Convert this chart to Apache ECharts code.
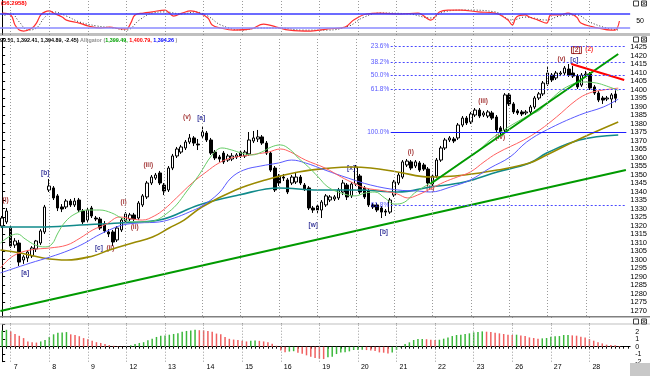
<!DOCTYPE html>
<html><head><meta charset="utf-8">
<script src="https://cdn.jsdelivr.net/npm/echarts@6/dist/echarts.min.js"></script>
<style>html,body{margin:0;padding:0;background:#fff;}#c{width:650px;height:376px;}</style>
</head><body><div id="c"></div>
<script>
// ---------- DATA ----------
const dayLabels = ['7','8','9','12','13','14','15','16','19','20','21','22','23','26','27','28'];
const dayStart  = [2,11,20,29,38,47,56,65,74,83,92,101,110,119,128,137];
const slotCount = 147;

// [open, close, low, high]
const candles = [
[1319.7,1324.4,1318.5,1325.6],[1322.1,1328.5,1320.9,1330.3],[1318.5,1307.9,1306.8,1319.7],[1308.5,1310.9,1306.8,1312.6],
[1309.7,1298.5,1296.2,1311.5],[1299.7,1301.5,1297.4,1302.6],[1300.9,1304.4,1298.5,1305.6],[1302.1,1306.8,1300.9,1307.9],
[1306.2,1310.9,1304.4,1311.5],[1309.7,1316.8,1308.5,1317.9],[1316.2,1330.9,1315.0,1332.1],[1340.9,1343.2,1339.7,1347.4],
[1342.1,1336.2,1335.0,1343.2],[1337.4,1330.3,1328.5,1338.5],[1330.9,1329.7,1327.9,1332.6],[1330.9,1334.4,1329.7,1335.6],
[1334.4,1332.1,1330.9,1335.6],[1332.1,1334.4,1330.9,1336.2],[1335.0,1329.1,1327.9,1336.2],[1328.5,1322.1,1320.9,1329.7],
[1323.2,1329.1,1322.1,1330.9],[1330.3,1325.6,1324.4,1331.5],[1324.4,1323.8,1322.6,1325.6],[1323.8,1318.5,1317.4,1325.0],
[1320.9,1316.8,1315.6,1322.6],[1316.2,1315.0,1313.2,1317.9],[1316.2,1310.3,1307.9,1317.4],[1311.5,1318.5,1310.3,1319.7],
[1317.4,1323.2,1316.2,1324.4],[1322.6,1326.8,1321.5,1327.9],[1323.8,1326.2,1322.6,1327.4],[1326.2,1323.8,1322.6,1327.4],
[1324.4,1333.2,1323.2,1334.4],[1332.1,1337.4,1330.9,1338.5],[1336.8,1345.0,1335.6,1346.2],[1345.0,1348.5,1343.8,1349.7],
[1347.9,1349.7,1346.8,1350.9],[1350.9,1345.0,1343.8,1352.1],[1343.8,1340.3,1337.9,1345.0],[1340.9,1353.8,1339.7,1355.0],
[1353.8,1360.9,1352.6,1362.1],[1360.9,1365.0,1359.7,1366.2],[1363.2,1366.2,1362.1,1367.4],[1365.6,1369.1,1364.4,1370.3],
[1369.1,1371.5,1367.9,1373.8],[1371.5,1368.5,1366.8,1372.6],[1367.9,1367.4,1364.4,1370.9],[1372.6,1375.0,1371.5,1377.9],
[1374.4,1370.3,1369.1,1375.6],[1370.3,1362.6,1361.5,1371.5],[1363.2,1359.7,1358.5,1364.4],[1360.3,1359.1,1357.4,1361.5],
[1362.6,1357.4,1356.2,1363.8],[1358.5,1360.9,1357.4,1362.1],[1359.1,1360.9,1357.9,1362.6],[1360.3,1361.5,1359.1,1362.6],
[1363.2,1360.9,1359.7,1364.4],[1360.9,1363.2,1359.7,1364.4],[1362.1,1370.3,1360.9,1375.0],[1369.7,1371.5,1368.5,1375.6],
[1370.9,1372.1,1369.1,1376.2],[1372.1,1368.5,1367.4,1373.2],[1368.5,1362.6,1361.5,1369.7],[1362.6,1352.6,1351.5,1363.8],
[1353.8,1340.9,1339.7,1355.0],[1349.1,1345.0,1343.2,1350.3],[1348.5,1347.9,1346.2,1350.3],[1346.8,1339.7,1338.5,1347.9],
[1345.0,1348.5,1343.8,1349.7],[1345.6,1348.5,1344.4,1351.5],[1348.5,1345.0,1343.8,1349.7],[1343.8,1341.5,1340.3,1345.0],
[1342.1,1330.3,1329.1,1343.2],[1330.3,1329.1,1327.4,1331.5],[1331.5,1329.1,1327.4,1332.6],[1329.1,1333.8,1324.4,1335.0],
[1332.1,1337.4,1330.9,1338.5],[1335.0,1336.8,1333.8,1337.9],[1335.6,1336.8,1334.4,1337.9],[1336.2,1340.9,1335.0,1342.1],
[1339.7,1345.0,1337.9,1346.8],[1343.8,1336.8,1335.0,1345.0],[1337.4,1344.4,1336.2,1345.6],[1344.4,1354.4,1343.2,1355.6],
[1349.1,1339.7,1338.5,1350.3],[1342.1,1336.8,1335.6,1343.2],[1340.3,1332.1,1330.9,1341.5],[1332.1,1330.9,1329.7,1333.2],
[1332.1,1329.1,1327.9,1333.2],[1330.3,1327.9,1324.4,1331.5],[1328.5,1327.9,1325.6,1329.7],[1327.9,1335.0,1326.8,1336.2],
[1337.9,1345.6,1336.8,1346.8],[1345.0,1349.7,1343.8,1350.9],[1348.5,1357.4,1347.4,1358.5],[1355.6,1357.9,1354.4,1359.1],
[1357.4,1353.8,1352.6,1358.5],[1355.0,1357.4,1353.8,1358.5],[1356.8,1352.6,1351.5,1357.9],[1355.6,1353.2,1352.1,1356.8],
[1353.2,1345.0,1343.2,1354.4],[1344.4,1349.1,1343.2,1350.3],[1349.1,1358.5,1347.9,1359.7],[1358.5,1365.6,1357.4,1366.8],
[1365.6,1370.3,1364.4,1371.5],[1370.3,1371.5,1369.1,1372.6],[1370.9,1369.7,1368.5,1372.1],[1371.5,1379.1,1370.3,1380.3],
[1379.1,1383.2,1377.9,1384.4],[1383.2,1380.3,1379.1,1384.4],[1380.9,1385.6,1379.7,1386.8],[1385.0,1387.9,1383.8,1389.1],
[1387.9,1384.4,1383.2,1389.1],[1385.0,1386.2,1383.8,1387.4],[1384.4,1386.8,1383.2,1387.9],[1386.2,1383.2,1382.1,1387.4],
[1383.8,1376.2,1375.0,1385.0],[1377.4,1375.0,1373.2,1378.5],[1376.2,1396.8,1375.0,1397.9],[1396.8,1391.5,1390.3,1397.9],
[1391.5,1386.8,1385.6,1392.6],[1387.4,1386.2,1385.0,1388.5],[1386.8,1385.6,1384.4,1387.9],[1386.2,1386.8,1385.0,1387.9],
[1386.8,1389.7,1385.6,1390.9],[1389.7,1395.0,1388.5,1396.2],[1395.0,1397.4,1393.8,1398.5],[1397.4,1403.8,1396.2,1405.0],
[1403.2,1409.7,1402.1,1413.2],[1408.5,1405.6,1404.4,1409.7],[1406.8,1409.7,1405.6,1410.9],[1409.1,1409.7,1407.9,1410.9],
[1409.7,1412.6,1408.5,1413.8],[1412.0,1408.5,1407.4,1415.0],[1409.7,1407.9,1406.8,1413.8],[1407.9,1401.5,1400.3,1409.1],
[1402.6,1408.5,1401.5,1409.7],[1408.5,1409.1,1407.4,1410.9],[1409.1,1400.9,1399.7,1410.3],[1401.5,1397.9,1396.8,1402.6],
[1397.9,1393.8,1392.6,1399.1],[1395.0,1393.8,1391.5,1396.2],[1394.4,1395.0,1393.2,1396.2],[1394.4,1396.8,1389.1,1397.9],
[1397.34,1394.89,1392.41,1399.51]
];

const histogram = [
2.15,2.25,2.05,1.7,1.45,1.15,0.7,0.6,0.55,0.7,0.9,1.3,1.65,1.85,1.9,1.95,1.65,1.55,1.4,1.15,1.0,0.8,0.6,0.5,0.35,0.22,0.12,0.05,-0.05,0.02,
0.18,0.35,0.5,0.6,0.85,1.05,1.3,1.45,1.5,1.6,1.7,1.8,2.0,2.1,2.15,2.25,2.2,2.18,2.1,2.0,1.75,1.65,1.3,1.05,0.95,0.9,0.8,0.7,0.78,0.82,
0.78,0.7,0.58,0.38,0.12,-0.5,-0.75,-0.65,-0.6,-0.8,-0.95,-1.15,-1.35,-1.5,-1.6,-1.65,-1.42,-1.33,-0.98,-0.76,-0.74,-0.62,-0.44,-0.43,-0.4,-0.45,-0.5,-0.58,-0.76,-0.8,
-0.89,-0.76,-0.44,-0.09,0.36,0.58,0.89,1.02,1.03,1.0,0.93,0.89,0.93,1.07,1.24,1.42,1.56,1.6,1.69,1.78,1.91,1.95,2.04,2.0,1.96,1.87,1.78,1.69,1.6,1.56,
1.6,1.51,1.42,1.24,1.16,1.07,1.11,1.16,1.33,1.38,1.42,1.56,1.57,1.51,1.47,1.33,1.24,1.02,0.8,0.58,0.44,0.27,0.22,0.18,0.09
];

// oscillator (top panel), [bar, value]
const stochMain = [[0,84],[2,76],[3,33],[4,11],[5,7],[7,20],[8,41],[9,76],[10,89],[11,93],[12,84],[14,67],[15,54],[18,41],[20,29],[23,20],[25,24],[28,16],[29,16],[30,41],[31,76],[33,84],[35,89],[38,97],[39,84],[40,71],[42,84],[44,93],[46,84],[48,63],[49,33],[51,20],[54,11],[58,16],[61,37],[64,24],[67,11],[72,7],[76,16],[80,24],[82,54],[85,80],[88,84],[93,80],[97,84],[100,54],[102,89],[104,97],[107,97],[111,89],[115,84],[118,54],[119,33],[120,67],[122,76],[123,67],[125,54],[127,41],[128,76],[130,76],[132,84],[134,67],[135,41],[138,24],[139,20],[142,11],[143,11],[144,50]];
const stochSignal = [[0,67],[2,84],[4,46],[6,11],[8,20],[10,67],[12,89],[15,71],[18,46],[22,29],[26,20],[29,11],[32,54],[35,84],[38,89],[42,80],[45,89],[48,71],[51,33],[56,11],[60,20],[65,20],[70,11],[76,11],[81,29],[84,63],[88,84],[95,80],[100,63],[103,89],[108,97],[115,89],[119,54],[122,67],[127,54],[130,71],[134,76],[137,46],[141,20],[144,11]];
const stochLevels = [80, 20];

// moving-average lines, [bar, price]
const lipsLine = [[-0.4,1309.7],[1.9,1313.8],[3.6,1315.0],[5.4,1312.1],[7.8,1308.5],[10.1,1307.4],[11.7,1309.1],[13.1,1315.6],[14.8,1322.1],[17.1,1326.8],[20.1,1329.1],[22.9,1329.1],[25.7,1327.4],[28.0,1324.4],[30.6,1322.1],[33.9,1322.1],[36.2,1323.2],[38.5,1326.8],[40.9,1332.1],[43.2,1339.7],[46.2,1349.7],[49.3,1361.5],[51.6,1365.6],[53.9,1364.4],[56.2,1362.6],[58.6,1361.5],[60.9,1363.2],[63.2,1366.2],[65.3,1367.4],[67.7,1364.4],[69.5,1359.7],[71.9,1354.4],[74.2,1348.5],[76.5,1342.6],[79.6,1339.1],[82.8,1337.4],[85.2,1339.1],[87.5,1339.7],[89.8,1336.2],[92.1,1332.6],[94.5,1333.8],[96.8,1339.1],[100.5,1345.0],[104.5,1351.5],[108.5,1358.5],[111.5,1363.2],[114.5,1370.3],[118.5,1377.4],[123.8,1385.0],[126.2,1387.9],[129.4,1395.6],[132.5,1401.5],[136.4,1404.4],[139.5,1403.8],[141.8,1402.1],[144.6,1399.5]];
const teethLine = [[-0.4,1295.0],[2.6,1302.1],[6.6,1305.6],[11.3,1306.8],[15.2,1308.5],[18.3,1312.6],[21.3,1317.4],[24.5,1320.9],[27.6,1325.0],[30.6,1323.8],[32.9,1323.2],[35.7,1325.6],[38.1,1329.7],[40.9,1336.2],[44.6,1345.0],[47.9,1351.5],[50.9,1356.8],[53.7,1359.7],[56.7,1360.9],[59.7,1362.1],[62.5,1363.2],[65.3,1365.0],[67.7,1363.2],[71.2,1358.5],[75.8,1353.8],[79.6,1348.5],[82.4,1345.0],[85.2,1342.1],[89.8,1340.3],[92.8,1338.5],[95.2,1336.2],[97.5,1337.9],[100.5,1341.5],[103.8,1345.6],[106.8,1348.5],[109.9,1351.5],[113.1,1357.4],[116.2,1362.6],[122.4,1370.3],[126.2,1376.2],[130.1,1383.8],[134.8,1393.8],[137.8,1397.9],[141.1,1399.7],[144.6,1400.8]];
const jawLine = [[-0.4,1292.1],[6.6,1297.9],[11.3,1301.5],[15.9,1305.6],[19.4,1309.7],[22.2,1313.8],[25.2,1317.4],[28.3,1320.3],[32.2,1321.5],[36.9,1322.1],[40.4,1324.4],[43.9,1327.9],[46.9,1331.5],[50.9,1339.1],[53.7,1347.9],[56.7,1352.6],[60.7,1355.0],[64.9,1356.8],[67.9,1358.5],[71.2,1356.8],[75.8,1352.6],[81.2,1347.9],[86.5,1343.8],[92.8,1340.9],[97.5,1340.3],[100.5,1339.7],[105.2,1342.6],[109.9,1346.8],[114.5,1353.8],[119.2,1360.3],[123.1,1369.1],[127.8,1376.2],[135.5,1385.0],[141.1,1389.7],[144.6,1394.3]];
const oliveLine = [[-0.4,1305.6],[4.3,1303.8],[9.6,1300.9],[15.2,1299.7],[21.3,1302.1],[25.2,1305.6],[30.6,1309.7],[35.3,1313.2],[39.2,1318.5],[42.7,1323.2],[46.9,1330.9],[54.8,1340.9],[61.8,1346.8],[69.5,1351.5],[77.2,1353.8],[81.9,1354.4],[86.5,1353.8],[92.8,1351.5],[100.5,1348.5],[108.5,1349.7],[116.2,1352.6],[123.8,1356.8],[127.8,1361.5],[135.5,1370.9],[144.6,1380.9]];
const tealLine = [[-0.4,1319.1],[8.9,1319.1],[18.3,1320.3],[27.6,1321.5],[36.9,1323.2],[46.2,1332.1],[55.5,1337.9],[64.9,1342.1],[74.2,1340.9],[83.5,1340.9],[92.8,1339.7],[100.5,1342.6],[108.5,1345.6],[116.2,1351.5],[123.8,1356.8],[127.8,1362.6],[135.5,1370.3],[144.6,1373.2]];

// drawn objects
const trendLong  = [[-0.4,1269.7],[146.4,1352.6]];
const trendSteep = [[100.5,1344.4],[144.6,1420.9]];
const trendRed   = [[133.6,1415.0],[146.0,1405.6]];
const fibLevels  = [
  {name:'23.6%', price:1425.4, solid:false},
  {name:'38.2%', price:1416.0, solid:false},
  {name:'50.0%', price:1408.3, solid:false},
  {name:'61.8%', price:1400.3, solid:false},
  {name:'100.0%', price:1375.0, solid:true},
  {name:'61.8%', price:1332.0, solid:false}
];
const fibStartBar = 91.2;
const waveLabels = [
  ['(i)',0.8,1335.0,'r'],['[a]',5.4,1292.1,'b'],['[b]',10.1,1350.9,'b'],['[c]',22.7,1306.8,'b'],['(ii)',25.4,1306.8,'r'],
  ['(i)',28.5,1333.8,'r'],['(ii)',31.1,1319.1,'r'],['(iii)',34.3,1355.6,'r'],['(v)',43.4,1383.8,'r'],['[a]',46.7,1383.2,'b'],
  ['[w]',73.0,1320.3,'b'],['[x]',81.9,1353.8,'b'],['[b]',89.6,1316.2,'b'],['(i)',95.9,1363.2,'r'],['(ii)',100.5,1342.1,'r'],
  ['(iii)',112.9,1393.2,'r'],['(iv)',116.9,1372.1,'r'],['(v)',131.3,1417.9,'r'],['[c]',134.3,1417.4,'b'],['[2]',134.8,1423.2,'box'],['(2)',137.8,1423.8,'red']
];
const headerValues = ['99.51, 1,392.41, 1,394.89, -2.45)', '1,399.49,', '1,400.79,', '1,394.26'];
const oscValue = '(56.2958)';

// ---------- CHART ----------
const categories = [];
for (let i = 0; i < slotCount; i++) { const d = dayStart.indexOf(i); categories.push(d >= 0 ? dayLabels[d] : ''); }

const GL = -0.45, GW = 630.6;
const FONT = 'Liberation Sans';
const vlines = dayStart.map(k => ({xAxis: k}));
const vlineStyle = {type: [1, 2], color: '#9a9a9a', width: 1};
function dayLineSeries(xi, yi) {
  return {type:'line', xAxisIndex:xi, yAxisIndex:yi, data:[], silent:true,
    markLine:{symbol:'none', silent:true, animation:false, label:{show:false}, lineStyle:vlineStyle, data:vlines}};
}
const waveColor = {r:'#8b0000', b:'#000080', box:'#8b0000', red:'#ff0000'};
const HF = 'bold 5.4px "Liberation Sans"';
function winButtons(y) {
  return [
    {type:'rect', shape:{x:633.5, y:y, width:5, height:5}, style:{fill:'#fff', stroke:'#404040', lineWidth:1}, z:101},
    {type:'rect', shape:{x:641.5, y:y, width:5, height:5}, style:{fill:'#fff', stroke:'#404040', lineWidth:1}, z:101},
    {type:'line', shape:{x1:642.5, y1:y+1, x2:645.5, y2:y+4}, style:{stroke:'#404040', lineWidth:1}, z:102},
    {type:'line', shape:{x1:645.5, y1:y+1, x2:642.5, y2:y+4}, style:{stroke:'#404040', lineWidth:1}, z:102}
  ];
}

const chart = echarts.init(document.getElementById('c'), null, {renderer:'canvas'});
const opt = {
  animation:false,
  backgroundColor:'#ffffff',
  textStyle:{fontFamily:FONT},
  grid:[
    {left:GL, width:GW, top:0, height:35},
    {left:GL, width:GW, top:38.5, height:280.5},
    {left:GL, width:GW, top:324.2, height:37.5}
  ],
  xAxis:[
    {type:'value', gridIndex:0, min:-0.5, max:146.5, show:false},
    {type:'category', gridIndex:1, data:categories, show:false},
    {type:'value', gridIndex:1, min:-0.5, max:146.5, show:false},
    {type:'category', gridIndex:2, data:categories,
      axisLine:{show:true, lineStyle:{color:'#000', width:1}},
      axisTick:{show:true, interval:0, length:2, alignWithLabel:true, lineStyle:{color:'#000'}},
      axisLabel:{show:true, interval:(i)=>dayStart.indexOf(i)>=0, align:'left', padding:[0,0,0,3], margin:2, fontSize:7, color:'#000', fontFamily:FONT}},
    {type:'category', gridIndex:2, data:categories,
      axisLine:{show:false}, axisLabel:{show:false},
      axisTick:{show:true, interval:(i)=>dayStart.indexOf(i)>=0, length:7, alignWithLabel:true, lineStyle:{color:'#000'}}},
    {type:'value', gridIndex:2, min:-0.5, max:146.5, show:false}
  ],
  yAxis:[
    {type:'value', gridIndex:0, min:-10, max:140, interval:10, position:'right', splitLine:{show:false},
      axisLine:{show:true, lineStyle:{color:'#000'}}, axisTick:{show:false},
      axisLabel:{formatter:v=>v===50?'50':'', fontSize:7, color:'#000', margin:6}},
    {type:'value', gridIndex:1, min:1265, max:1430, interval:5, position:'right', splitLine:{show:false},
      axisLine:{show:true, lineStyle:{color:'#000'}}, axisTick:{show:true, length:3, lineStyle:{color:'#000'}},
      axisLabel:{formatter:v=>(v<1270||v>1425)?'':String(v), fontSize:7.5, color:'#000', margin:4}},
    {type:'value', gridIndex:2, min:-2, max:3, interval:1, position:'right', splitLine:{show:false},
      axisLine:{show:true, lineStyle:{color:'#000'}}, axisTick:{show:true, length:3, lineStyle:{color:'#000'}},
      axisLabel:{formatter:v=>v>2?'':String(v), fontSize:7, color:'#000', margin:5}}
  ],
  series:[
    dayLineSeries(0,0), dayLineSeries(2,1), dayLineSeries(5,2),
    {type:'line', xAxisIndex:0, yAxisIndex:0, data:stochSignal, smooth:0.4, symbol:'none',
      lineStyle:{color:'#333', width:1, type:[1,2]}},
    {type:'line', xAxisIndex:0, yAxisIndex:0, data:stochMain, smooth:0.4, symbol:'none',
      lineStyle:{color:'#ff3030', width:1.2},
      markLine:{symbol:'none', silent:true, label:{show:false},
        data:[{yAxis:stochLevels[0], lineStyle:{color:'#3a3aff', width:1.5, type:'solid'}},
              {yAxis:stochLevels[1], lineStyle:{color:'#8a8aff', width:1.5, type:'solid'}}]}},
    {type:'line', xAxisIndex:2, yAxisIndex:1, data:[], silent:true,
      markLine:{symbol:'none', silent:true, label:{show:false},
        data: fibLevels.map(f => [{coord:[fibStartBar, f.price], lineStyle:{color: f.solid?'#2020ff':'#4a4aff', width: f.solid?1.2:1, type: f.solid?'solid':[2,2]}}, {coord:[146.5, f.price]}])}},
    {type:'line', xAxisIndex:2, yAxisIndex:1, data:tealLine, smooth:0.4, symbol:'none', lineStyle:{color:'#108a8a', width:1.6}},
    {type:'line', xAxisIndex:2, yAxisIndex:1, data:oliveLine, smooth:0.4, symbol:'none', lineStyle:{color:'#9a8a00', width:1.6}},
    {type:'line', xAxisIndex:2, yAxisIndex:1, data:jawLine, smooth:0.4, symbol:'none', lineStyle:{color:'#5a5aff', width:1}},
    {type:'line', xAxisIndex:2, yAxisIndex:1, data:teethLine, smooth:0.4, symbol:'none', lineStyle:{color:'#ff6060', width:1}},
    {type:'line', xAxisIndex:2, yAxisIndex:1, data:lipsLine, smooth:0.4, symbol:'none', lineStyle:{color:'#66cc66', width:1}},
    {type:'line', xAxisIndex:2, yAxisIndex:1, data:trendLong, symbol:'none', lineStyle:{color:'#009a00', width:2}},
    {type:'line', xAxisIndex:2, yAxisIndex:1, data:trendSteep, symbol:'none', lineStyle:{color:'#009a00', width:2}},
    {type:'line', xAxisIndex:2, yAxisIndex:1, data:trendRed, symbol:'none', lineStyle:{color:'#ff0000', width:2}},
    {type:'candlestick', xAxisIndex:1, yAxisIndex:1, data:candles, barWidth:3,
      itemStyle:{color:'#ffffff', color0:'#000000', borderColor:'#000000', borderColor0:'#000000', borderWidth:1}},
    {type:'scatter', xAxisIndex:2, yAxisIndex:1, symbolSize:1, itemStyle:{color:'rgba(0,0,0,0)'}, silent:true,
      data: waveLabels.map(w => ({value:[w[1], w[2]], t:w[0],
        label:{color:waveColor[w[3]], borderColor: w[3]==='box'?'#8b0000':'transparent', borderWidth: w[3]==='box'?1:0, padding: w[3]==='box'?[0,1,0,1]:0}})),
      label:{show:true, position:'inside', formatter:p=>p.data.t, fontSize:6.5, fontWeight:'bold', fontFamily:FONT}},
    {type:'scatter', xAxisIndex:2, yAxisIndex:1, symbolSize:1, itemStyle:{color:'rgba(0,0,0,0)'}, silent:true,
      data: fibLevels.map(f => ({value:[fibStartBar, f.price], t:f.name})),
      label:{show:true, position:'left', distance:1, formatter:p=>p.data.t, fontSize:6.5, color:'#2a2aff', fontFamily:FONT}},
    {type:'bar', xAxisIndex:3, yAxisIndex:2, data:histogram, barWidth:1.5,
      itemStyle:{color:p => (p.dataIndex>0 && histogram[p.dataIndex] < histogram[p.dataIndex-1]) ? '#f06060' : '#3cb83c'}}
  ],
  graphic:[
    {type:'rect', shape:{x:0, y:33.5, width:650, height:1}, style:{fill:'#808080'}, z:100},
    {type:'rect', shape:{x:0, y:35, width:650, height:1}, style:{fill:'#c0c0c0'}, z:100},
    {type:'rect', shape:{x:0, y:316, width:650, height:1.5}, style:{fill:'#808080'}, z:100},
    {type:'rect', shape:{x:0, y:317.5, width:650, height:6}, style:{fill:'#ffffff'}, z:99},
    {type:'rect', shape:{x:0, y:323.5, width:650, height:1}, style:{fill:'#c0c0c0'}, z:100},
    {type:'rect', shape:{x:630, y:363, width:20, height:13}, style:{fill:'#c8c8c8'}, z:100},
    {type:'text', left:1, top:0, z:100, style:{text:oscValue, fill:'#ff0000', font:'bold 6px "Liberation Sans"'}},
    {type:'text', left:0, top:38, z:100, style:{
      text:'{k|'+headerValues[0]+'} {g|Alligator (}{gr|'+headerValues[1]+'} {r|'+headerValues[2]+'} {bl|'+headerValues[3]+'}{g| )}',
      font:HF,
      rich:{k:{fill:'#000', font:HF}, g:{fill:'#909090', font:HF}, gr:{fill:'#00a000', font:HF}, r:{fill:'#ff0000', font:HF}, bl:{fill:'#0000ff', font:HF}}}},
    ...winButtons(1), ...winButtons(37), ...winButtons(319)
  ]
};
chart.setOption(opt);
</script></body></html>
